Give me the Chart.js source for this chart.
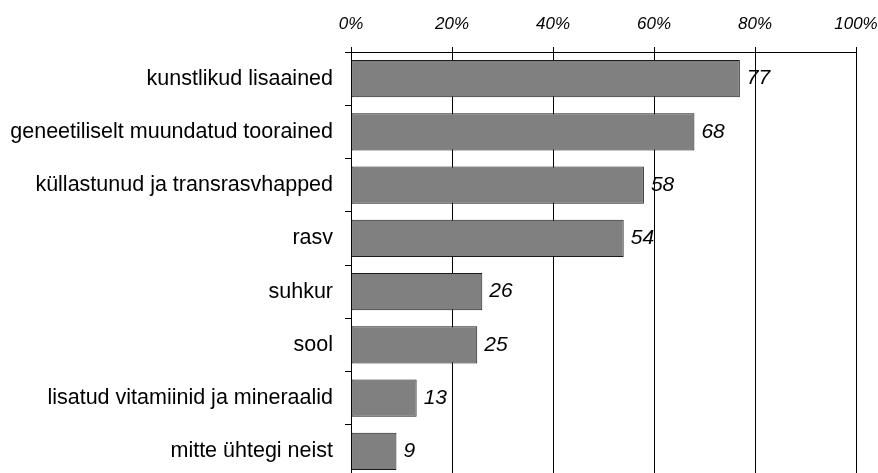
<!DOCTYPE html>
<html>
<head>
<meta charset="utf-8">
<script src="https://cdn.jsdelivr.net/npm/chart.js@4.4.1/dist/chart.umd.min.js"></script>
<style>
  html, body { margin: 0; padding: 0; background: #fff; overflow: hidden; }
  canvas { display: block; }
</style>
</head>
<body>
<canvas id="barChart" width="878" height="478"></canvas>
<script>
// --- Data ---
const categories = [
    'kunstlikud lisaained',
    'geneetiliselt muundatud toorained',
    'küllastunud ja transrasvhapped',
    'rasv',
    'suhkur',
    'sool',
    'lisatud vitamiinid ja mineraalid',
    'mitte ühtegi neist'
];
const values = [77, 68, 58, 54, 26, 25, 13, 9];
const tickValues = [0, 20, 40, 60, 80, 100];

const FONT = '"Liberation Sans", Arial, sans-serif';

// draws the number to the right of each bar
const valueLabels = {
    id: 'valueLabels',
    afterDatasetsDraw(chart) {
        const ctx = chart.ctx;
        const meta = chart.getDatasetMeta(0);
        ctx.save();
        ctx.font = 'italic 21px ' + FONT;
        ctx.fillStyle = '#000';
        ctx.textAlign = 'left';
        ctx.textBaseline = 'middle';
        meta.data.forEach((bar, i) => {
            ctx.fillText(String(values[i]), bar.x + 7, bar.y);
        });
        ctx.restore();
    }
};

const ctx = document.getElementById('barChart').getContext('2d');
new Chart(ctx, {
    type: 'bar',
    data: {
        labels: categories,
        datasets: [{
            data: values,
            backgroundColor: '#808080',
            borderColor: '#1a1a1a',
            borderWidth: 1,
            borderSkipped: false,
            barPercentage: 0.7,
            categoryPercentage: 1
        }]
    },
    options: {
        indexAxis: 'y',
        responsive: false,
        animation: false,
        layout: { padding: { left: 0, right: 22, top: 0, bottom: 0 } },
        plugins: {
            legend: { display: false },
            tooltip: { enabled: false }
        },
        scales: {
            x: {
                position: 'top',
                min: 0,
                max: 100,
                afterBuildTicks: (scale) => {
                    scale.ticks = tickValues.map(v => ({ value: v }));
                },
                afterFit: (scale) => {
                    scale.height = 52;
                    scale.paddingLeft = 0;
                    scale.paddingRight = 0;
                },
                ticks: {
                    callback: (v) => v + '%',
                    color: '#000',
                    font: { family: FONT, size: 17, style: 'italic' },
                    padding: 13,
                    maxRotation: 0
                },
                grid: {
                    color: '#000',
                    lineWidth: 1,
                    tickLength: 5,
                    tickColor: '#000'
                },
                border: { color: '#000', width: 1 }
            },
            y: {
                afterFit: (scale) => {
                    scale.width = 351;
                    scale.paddingTop = 0;
                    scale.paddingBottom = 0;
                },
                ticks: {
                    color: '#000',
                    font: { family: FONT, size: 21.5 },
                    padding: 12
                },
                grid: {
                    offset: true,
                    drawOnChartArea: false,
                    tickLength: 6,
                    tickColor: '#000'
                },
                border: { color: '#000', width: 1 }
            }
        }
    },
    plugins: [valueLabels]
});
</script>
</body>
</html>
